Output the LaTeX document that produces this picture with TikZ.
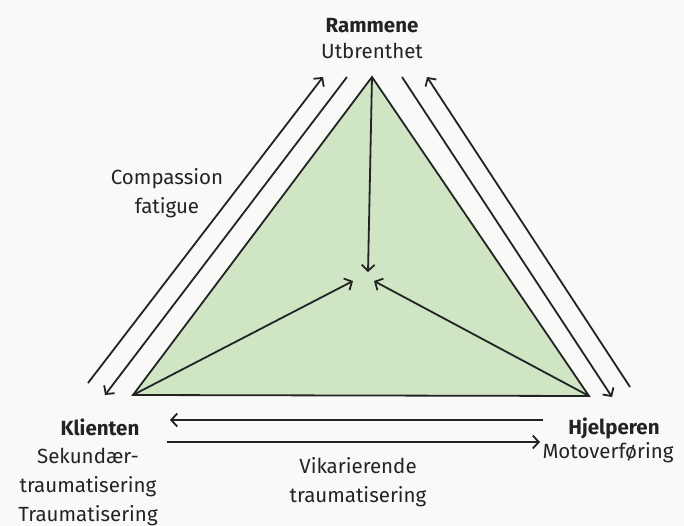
\documentclass[tikz,border=0pt]{standalone}
\usepackage{fontspec}
\setmainfont{Fira Sans}
\usetikzlibrary{arrows.meta}

\definecolor{linje}{RGB}{35,35,35}
\definecolor{gronn}{RGB}{208,229,196}
\definecolor{papir}{RGB}{249,249,247}

\begin{document}
\begin{tikzpicture}[x=1pt,y=-1pt]
\tikzstyle{every node} = [inner sep=0pt,text=linje,align=center,
font=\fontsize{20.5}{29}\selectfont]
\tikzstyle{pil} = [-{Straight Barb[length=6pt,width=13pt]},line width=1.8pt,draw=linje]
\tikzstyle{strek} = [line width=1.8pt,draw=linje]
\useasboundingbox (0,0) rectangle (684,526);
\fill[papir] (0,0) rectangle (684,526);

% hjornene i trekanten
\coordinate (top) at (372,77);
\coordinate (kl) at (133,395);
\coordinate (hj) at (589,396);
\coordinate (midt) at (368,272);
\coordinate (midtv) at (353,281);
\coordinate (midth) at (374,281);

\filldraw[fill=gronn,strek,line join=miter] (top) -- (kl) -- (hj) -- cycle;
\draw [pil] (top) -- (midt);
\draw [pil] (kl) -- (midtv);
\draw [pil] (hj) -- (midth);

% parallelle piler
\coordinate (a1) at (88,383);
\coordinate (a2) at (323,77);
\coordinate (b1) at (347,77);
\coordinate (b2) at (105,395);
\coordinate (c1) at (402,77);
\coordinate (c2) at (612,397);
\coordinate (d1) at (630,387);
\coordinate (d2) at (427,77);
\coordinate (e1) at (543,420);
\coordinate (e2) at (170,420);
\coordinate (f1) at (167,442);
\coordinate (f2) at (540,442);
\draw [pil] (a1) -- (a2);
\draw [pil] (b1) -- (b2);
\draw [pil] (c1) -- (c2);
\draw [pil] (d1) -- (d2);
\draw [pil] (e1) -- (e2);
\draw [pil] (f1) -- (f2);

% tekster
\node (ramme) at (372,26) {\bfseries Rammene};
\node (utbr) at (372,51) {Utbrenthet};
\node (comp) at (167,193) {Compassion\\fatigue};
\node (klient) at (100,427) {\bfseries Klienten};
\node (sekund) at (88,487) {Sekundær-\\traumatisering\\Traumatisering};
\node (hjelp) at (614,428) {\bfseries Hjelperen};
\node (motov) at (608,453) {Motoverføring};
\node (vikar) at (358,482) {Vikarierende\\traumatisering};
\end{tikzpicture}
\end{document}
